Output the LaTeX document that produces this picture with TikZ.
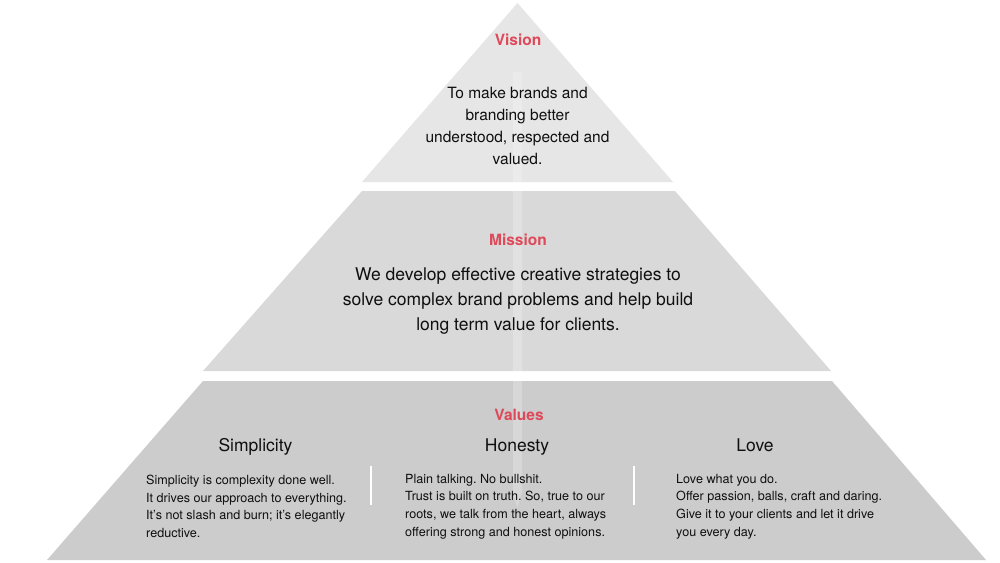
\documentclass[tikz,border=0pt]{standalone}
\usepackage{fontspec}
\setmainfont{TeX Gyre Heros}
\frenchspacing
\definecolor{tierone}{RGB}{230,230,230}
\definecolor{tiertwo}{RGB}{217,217,217}
\definecolor{tierthree}{RGB}{203,204,203}
\definecolor{accent}{RGB}{222,72,88}
\definecolor{ink}{RGB}{15,15,15}
\tikzset{
  tiertitle/.style={inner sep=0pt, text=accent, font=\fontsize{15.5}{18}\selectfont\bfseries},
  bodybig/.style={inner sep=0pt, text=ink, align=center},
  colhead/.style={inner sep=0pt, text=ink, anchor=base, font=\fontsize{17.5}{21}\selectfont},
  coltext/.style={inner sep=0pt, text=ink, align=left, anchor=west, font=\fontsize{12.6}{17.7}\selectfont},
  divider/.style={draw=white, line width=2pt},
}
\begin{document}
\begin{tikzpicture}[x=1pt,y=-1pt]
\useasboundingbox (0,0) rectangle (1000,562);
\fill[white] (0,0) rectangle (1000,562);
% tiers
\fill[tierone] (517.5,3) -- (673,182) -- (362,182) -- cycle;
\fill[tiertwo] (362,191) -- (675,191) -- (831,371) -- (203,371) -- cycle;
\fill[tierthree] (203,381) -- (832,381) -- (986,560) -- (47,560) -- cycle;
% faint central stripe
\fill[white, opacity=0.22] (513,72) -- (522,72) -- (522,492) -- (517.5,508) -- (513,492) -- cycle;
% Vision
\node[tiertitle] (vision) at (518,40) {Vision};
\node[bodybig, font=\fontsize{15.5}{22}\selectfont] (visiontext) at (517.5,126)
  {To make brands and\\ branding better\\ understood, respected and\\ valued.};
% Mission
\node[tiertitle] (mission) at (518,240) {Mission};
\node[bodybig, font=\fontsize{17.5}{25}\selectfont] (missiontext) at (518,301)
  {We develop effective creative strategies to\\ solve complex brand problems and help build\\ long term value for clients.};
% Values
\node[tiertitle] (values) at (519,415) {Values};
\node[colhead] (simplicity) at (255.5,451) {Simplicity};
\node[colhead] (honesty) at (517,451) {Honesty};
\node[colhead] (love) at (755,451) {Love};
\node[coltext] (simtext) at (146,506.5)
  {Simplicity is complexity done well.\\ It drives our approach to everything.\\ It's not slash and burn; it's elegantly\\ reductive.};
\node[coltext] (hontext) at (405,506.5)
  {Plain talking. No bullshit.\\ Trust is built on truth. So, true to our\\ roots, we talk from the heart, always\\ offering strong and honest opinions.};
\node[coltext] (lovetext) at (676,506.5)
  {Love what you do.\\ Offer passion, balls, craft and daring.\\ Give it to your clients and let it drive\\ you every day.};
% dividers
\coordinate (d1top) at (371,466);
\coordinate (d1bot) at (371,505);
\coordinate (d2top) at (634,466);
\coordinate (d2bot) at (634,505);
\draw[divider] (d1top) -- (d1bot);
\draw[divider] (d2top) -- (d2bot);
\end{tikzpicture}
\end{document}
